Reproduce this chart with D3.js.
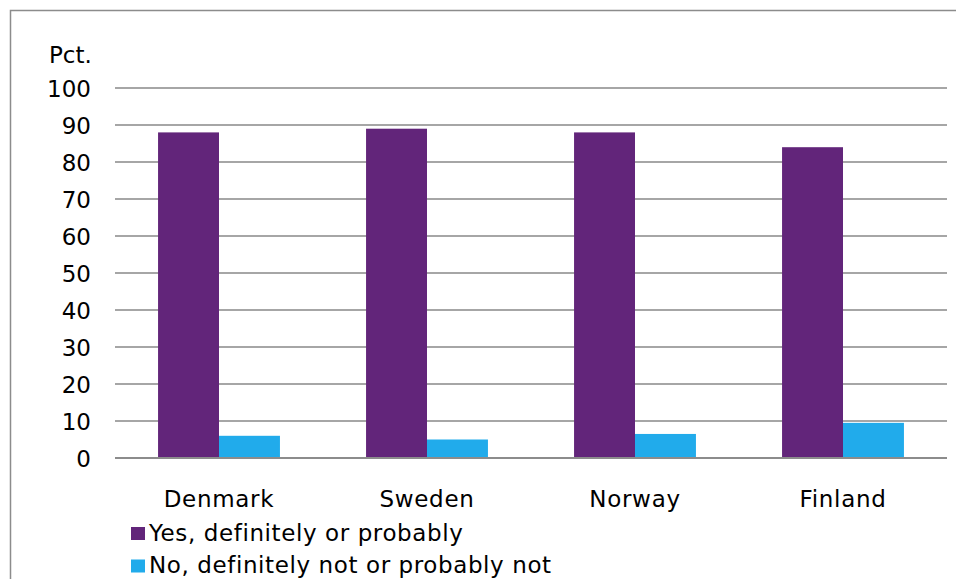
<!DOCTYPE html>
<html><head><meta charset="utf-8">
<script src="https://cdn.jsdelivr.net/npm/d3@7"></script>
<style>body{margin:0;background:#fff}svg{display:block}text{font-family:"DejaVu Sans",Verdana,sans-serif;fill:#000}</style>
</head><body>
<script>
const categories = ["Denmark","Sweden","Norway","Finland"];
const seriesNames = ["Yes, definitely or probably","No, definitely not or probably not"];
const yesValues = [88, 89, 88, 84];
const noValues = [6, 5, 6.5, 9.5];
const yTicks = [0,10,20,30,40,50,60,70,80,90,100];
const colors = ["#62257A","#21ABEB"];

const W=956,H=579,FS=23;
const svg=d3.select("body").append("svg").attr("width",W).attr("height",H);
svg.append("rect").attr("x",10.5).attr("y",10.5).attr("width",W+20).attr("height",H+20)
  .attr("fill","#fff").attr("stroke","#8c8c8c").attr("stroke-width",1.5);

const x0=115,x1=947,yTop=88,yBot=458;
const x=d3.scaleBand().domain(categories).range([x0,x1]).paddingInner(0.414).paddingOuter(0.207);
const xs=d3.scaleBand().domain([0,1]).range([0,x.bandwidth()]);
const y=d3.scaleLinear().domain([0,100]).range([yBot,yTop]);

const g=svg.append("g");
g.selectAll("line.grid").data(yTicks.filter(d=>d>0)).join("line")
  .attr("x1",x0).attr("x2",x1).attr("y1",d=>y(d)).attr("y2",d=>y(d))
  .attr("stroke","#a6a6a6").attr("stroke-width",2);

const yAxis=d3.axisLeft(y).tickValues(yTicks).tickSize(0).tickPadding(0);
const ya=svg.append("g").attr("transform",`translate(91,0)`).call(yAxis);
ya.select(".domain").remove();
ya.selectAll("text").attr("font-size",FS).attr("font-family","DejaVu Sans").attr("fill","#000").attr("dy","0.36em");

const data=categories.map((c,i)=>({c,v:[yesValues[i],noValues[i]]}));
const grp=g.selectAll("g.cat").data(data).join("g").attr("transform",d=>`translate(${x(d.c)},0)`);
grp.selectAll("rect").data(d=>d.v.map((v,k)=>({v,k}))).join("rect")
  .attr("x",d=>xs(d.k)).attr("width",xs.bandwidth())
  .attr("y",d=>y(d.v)).attr("height",d=>yBot-y(d.v)).attr("fill",d=>colors[d.k]);

g.append("line").attr("x1",x0).attr("x2",x1).attr("y1",yBot).attr("y2",yBot)
  .attr("stroke","#8c8c8c").attr("stroke-width",2);

const xAxis=d3.axisBottom(x).tickSize(0).tickPadding(0);
const xa=svg.append("g").attr("transform",`translate(0,507)`).call(xAxis);
xa.select(".domain").remove();
xa.selectAll("text").attr("font-size",FS).attr("font-family","DejaVu Sans").attr("fill","#000").attr("dy","0").attr("letter-spacing","0.7px");

svg.append("text").attr("x",49).attr("y",63).attr("font-size",FS).text("Pct.");

const leg=svg.append("g");
seriesNames.forEach((n,i)=>{
  const yy=527+i*32.5;
  leg.append("rect").attr("x",131).attr("y",yy).attr("width",14).attr("height",13).attr("fill",colors[i]);
  leg.append("text").attr("x",149).attr("y",yy+13.5).attr("font-size",FS).attr("letter-spacing","0.6px").text(n);
});
</script>
</body></html>
